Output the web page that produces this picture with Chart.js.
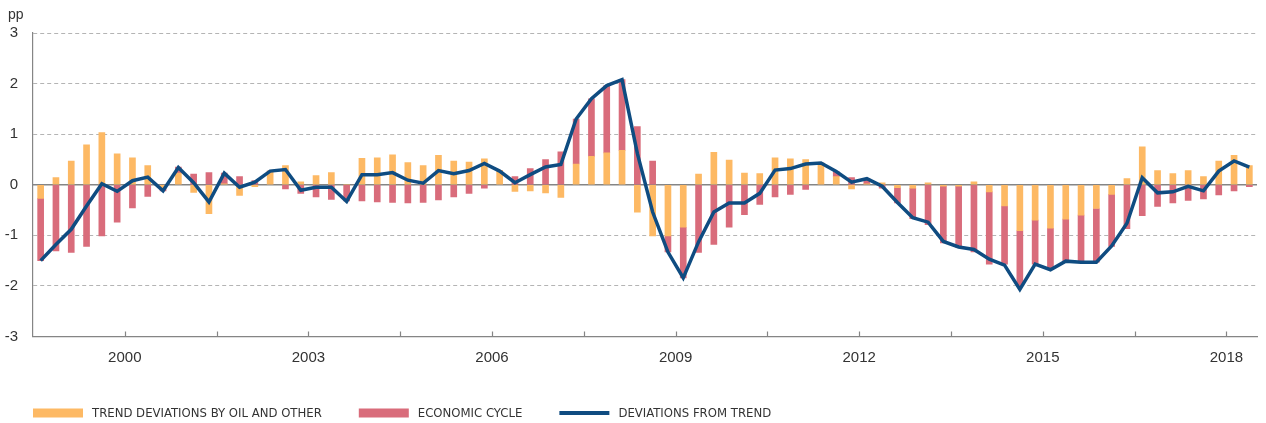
<!DOCTYPE html>
<html>
<head>
<meta charset="utf-8">
<script src="https://cdn.jsdelivr.net/npm/chart.js@4.4.1/dist/chart.umd.min.js"></script>
<style>
  html, body { margin: 0; padding: 0; background: #fff; }
</style>
</head>
<body>
<canvas id="deviationsChart" width="1266" height="423"></canvas>
<script>
// quarterly series, 1999 Q1 .. 2018 Q4 (pp)
const years = [1999, 2000, 2001, 2002, 2003, 2004, 2005, 2006, 2007, 2008, 2009,
  2010, 2011, 2012, 2013, 2014, 2015, 2016, 2017, 2018];
const quarterNames = ["Q1", "Q2", "Q3", "Q4"];
const yearTicks = ["2000", "2003", "2006", "2009", "2012", "2015", "2018"];
const yTicks = [-3, -2, -1, 0, 1, 2, 3];
const unitLabel = "pp";

const oilAndOther = [
  -0.27, 0.14, 0.47, 0.79, 1.03, 0.61, 0.53, 0.38,
  -0.07, 0.23, -0.15, -0.57, 0.02, -0.21, -0.04, 0.27,
  0.38, 0.06, 0.18, 0.24, 0.00, 0.52, 0.53, 0.59,
  0.44, 0.38, 0.58, 0.47, 0.45, 0.51, 0.28, -0.13,
  -0.12, -0.16, -0.25, 0.41, 0.56, 0.63, 0.68, -0.54,
  -1.01, -1.01, -0.84, 0.21, 0.64, 0.49, 0.23, 0.22,
  0.53, 0.51, 0.50, 0.43, 0.16, -0.08, 0.02, 0.04,
  -0.06, -0.07, 0.04, -0.03, -0.03, 0.06, -0.14, -0.42,
  -0.91, -0.70, -0.86, -0.68, -0.60, -0.47, -0.19, 0.12,
  0.75, 0.28, 0.22, 0.28, 0.16, 0.47, 0.58, 0.38
];
const economicCycle = [
  -1.23, -1.31, -1.34, -1.22, -1.01, -0.74, -0.46, -0.23,
  -0.05, 0.12, 0.21, 0.24, 0.21, 0.16, 0.08, 0.00,
  -0.08, -0.17, -0.24, -0.29, -0.32, -0.32, -0.34, -0.35,
  -0.36, -0.35, -0.30, -0.24, -0.17, -0.07, 0.00, 0.16,
  0.32, 0.50, 0.65, 0.89, 1.14, 1.33, 1.40, 1.15,
  0.47, -0.32, -1.00, -1.34, -1.18, -0.84, -0.59, -0.39,
  -0.24, -0.19, -0.09, 0.00, 0.10, 0.14, 0.10, -0.07,
  -0.30, -0.60, -0.79, -1.12, -1.21, -1.33, -1.43, -1.15,
  -1.09, -0.87, -0.79, -0.83, -0.91, -1.06, -1.03, -0.87,
  -0.61, -0.43, -0.36, -0.31, -0.28, -0.20, -0.12, -0.04
];
const deviations = [
  -1.50, -1.18, -0.88, -0.42, 0.02, -0.13, 0.08, 0.15,
  -0.12, 0.34, 0.04, -0.34, 0.23, -0.05, 0.05, 0.27,
  0.30, -0.11, -0.05, -0.05, -0.33, 0.20, 0.20, 0.24,
  0.09, 0.03, 0.28, 0.22, 0.28, 0.42, 0.27, 0.04,
  0.20, 0.35, 0.40, 1.30, 1.70, 1.96, 2.08, 0.62,
  -0.54, -1.33, -1.84, -1.13, -0.54, -0.36, -0.36, -0.17,
  0.29, 0.32, 0.41, 0.43, 0.26, 0.05, 0.12, -0.03,
  -0.35, -0.65, -0.74, -1.12, -1.23, -1.28, -1.47, -1.59,
  -2.07, -1.57, -1.68, -1.51, -1.53, -1.53, -1.21, -0.76,
  0.14, -0.16, -0.14, -0.03, -0.12, 0.27, 0.47, 0.35
];

const quarters = [];
years.forEach((yr) => quarterNames.forEach((q) => quarters.push(yr + " " + q)));

const ORANGE = "#fdb964";
const RED = "#d96c7b";
const BLUE = "#0f4c81";
const AXIS = "#858585";
const TEXT = "#333333";
const legendFont = '13px "Liberation Sans Narrow", "DejaVu Sans Condensed", "Liberation Sans", sans-serif';

// zero line, inward ticks, unit label and legend
const extras = {
  id: "extras",
  beforeDatasetsDraw(chart) {
    const { ctx, chartArea, scales } = chart;
    const y0 = scales.y.getPixelForValue(0);
    ctx.save();
    ctx.strokeStyle = AXIS;
    ctx.lineWidth = 1.5;
    ctx.beginPath();
    ctx.moveTo(chartArea.left, y0);
    ctx.lineTo(chartArea.right, y0);
    ctx.stroke();
    ctx.restore();
  },
  afterDraw(chart) {
    const { ctx, chartArea, scales } = chart;
    ctx.save();
    ctx.strokeStyle = AXIS;
    ctx.lineWidth = 1.2;
    scales.xt.ticks.forEach((t) => {
      const x = Math.round(scales.xt.getPixelForValue(t.value)) + 0.5;
      ctx.beginPath();
      ctx.moveTo(x, chartArea.bottom);
      ctx.lineTo(x, chartArea.bottom - 5);
      ctx.stroke();
    });

    ctx.fillStyle = TEXT;
    ctx.font = '14px "Liberation Sans", Arial, sans-serif';
    ctx.textAlign = "left";
    ctx.textBaseline = "alphabetic";
    ctx.fillText(unitLabel, 8, 19);

    // legend
    let x = chartArea.left;
    const yMid = 413;
    chart.data.datasets.forEach((ds) => {
      if (ds.type === "line") {
        ctx.strokeStyle = ds.borderColor;
        ctx.lineWidth = 4;
        ctx.beginPath();
        ctx.moveTo(x, yMid);
        ctx.lineTo(x + 50, yMid);
        ctx.stroke();
      } else {
        ctx.fillStyle = ds.backgroundColor;
        ctx.fillRect(x, yMid - 4.5, 50, 9);
      }
      x += 59;
      ctx.fillStyle = TEXT;
      ctx.font = legendFont;
      ctx.textBaseline = "middle";
      ctx.fillText(ds.label, x, yMid + 1);
      x += ctx.measureText(ds.label).width + 37;
    });
    ctx.restore();
  }
};

const ctx = document.getElementById("deviationsChart").getContext("2d");
new Chart(ctx, {
  type: "bar",
  data: {
    labels: quarters,
    datasets: [
      {
        type: "bar",
        label: "TREND DEVIATIONS BY OIL AND OTHER",
        data: oilAndOther,
        backgroundColor: ORANGE,
        barThickness: 6,
        xAxisID: "x",
        order: 0
      },
      {
        type: "bar",
        label: "ECONOMIC CYCLE",
        data: economicCycle,
        backgroundColor: RED,
        barThickness: 6,
        xAxisID: "x",
        order: 0
      },
      {
        type: "line",
        label: "DEVIATIONS FROM TREND",
        data: deviations,
        borderColor: BLUE,
        backgroundColor: BLUE,
        borderWidth: 3.5,
        pointRadius: 0,
        tension: 0,
        xAxisID: "x",
        order: -1
      }
    ]
  },
  options: {
    responsive: false,
    animation: false,
    layout: { padding: { top: 33, right: 9, left: 0, bottom: 0 } },
    plugins: {
      legend: { display: false },
      tooltip: { enabled: false }
    },
    scales: {
      x: {
        type: "category",
        display: false,
        stacked: true,
        offset: true
      },
      xt: {
        type: "linear",
        position: "bottom",
        min: 0,
        max: quarters.length,
        bounds: "data",
        offset: false,
        afterBuildTicks: (scale) => {
          const ticks = [];
          for (let v = 6; v < quarters.length; v += 6) ticks.push({ value: v });
          scale.ticks = ticks;
        },
        afterFit: (scale) => { scale.height = 86.5; },
        grid: { display: false, drawTicks: false, offset: false },
        border: { display: true, color: AXIS, width: 1.2 },
        ticks: {
          autoSkip: false,
          maxRotation: 0,
          padding: 12,
          color: TEXT,
          font: { family: '"Liberation Sans", Arial, sans-serif', size: 15 },
          callback: (v) => {
            const yr = quarters[v] ? quarters[v].slice(0, 4) : "";
            return yearTicks.includes(yr) && quarters[v].endsWith("Q3") ? yr : "";
          }
        }
      },
      y: {
        stacked: true,
        min: yTicks[0],
        max: yTicks[yTicks.length - 1],
        afterFit: (scale) => { scale.width = 33; },
        afterBuildTicks: (scale) => { scale.ticks = yTicks.map((v) => ({ value: v })); },
        grid: {
          drawTicks: false,
          color: (c) => (c.tick && (c.tick.value === 0 || c.tick.value === yTicks[0]) ? "rgba(0,0,0,0)" : "#b4b4b4"),
          lineWidth: 1
        },
        border: { display: true, color: AXIS, width: 1.2, dash: [4, 3] },
        ticks: {
          padding: 15,
          color: TEXT,
          font: { family: '"Liberation Sans", Arial, sans-serif', size: 15 }
        }
      }
    }
  },
  plugins: [extras]
});
</script>
</body>
</html>
